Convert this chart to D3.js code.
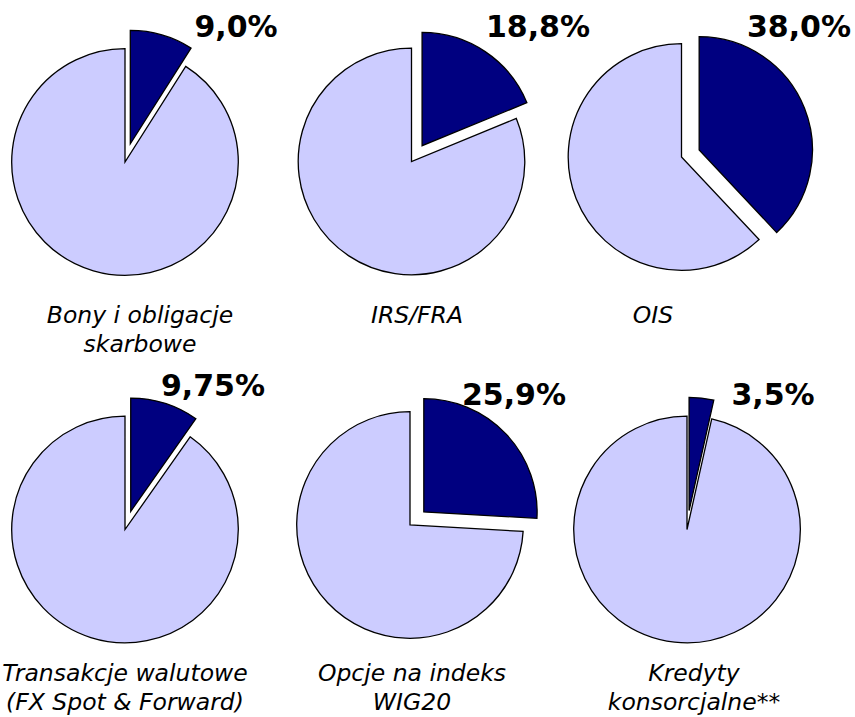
<!DOCTYPE html>
<html>
<head>
<meta charset="utf-8">
<script src="https://cdn.jsdelivr.net/npm/d3@7"></script>
<style>
  html, body { margin: 0; padding: 0; background: #fff; }
  svg { display: block; }
  .val { font-family: "DejaVu Sans", Verdana, sans-serif; font-weight: bold; font-size: 30px; fill: #000; }
  .cat { font-family: "DejaVu Sans", Verdana, sans-serif; font-style: italic; font-size: 23.5px; fill: #000; }
</style>
</head>
<body>
<svg id="chart" width="855" height="717"></svg>
<script>
// Share of each market segment (percent), one pie per segment
const categories = [
  ["Bony i obligacje", "skarbowe"],
  ["IRS/FRA"],
  ["OIS"],
  ["Transakcje walutowe", "(FX Spot & Forward)"],
  ["Opcje na indeks", "WIG20"],
  ["Kredyty", "konsorcjalne**"]
];
const shares = [9.0, 18.8, 38.0, 9.75, 25.9, 3.5];

// Placement of each pie and its texts
const layout = [
  { cx: 125,   cy: 162,   valX: 236, valY: 37,  catX: 140, catY: 323 },
  { cx: 411.5, cy: 161.5, valX: 538, valY: 37,  catX: 417, catY: 323 },
  { cx: 681.5, cy: 157,   valX: 799, valY: 37,  catX: 653, catY: 323 },
  { cx: 125,   cy: 529.5, valX: 213, valY: 396, catX: 125, catY: 681 },
  { cx: 410,   cy: 525,   valX: 514, valY: 405, catX: 412, catY: 681 },
  { cx: 687,   cy: 529.5, valX: 773, valY: 405, catX: 694, catY: 681 }
];

const radius = 113.3;
const explode = 19;
const lineGap = 29;
const colors = { part: "#000080", rest: "#ccccff" };

const svg = d3.select("#chart");
const pie = d3.pie().sort(null).value(d => d.v);
const arc = d3.arc().innerRadius(0).outerRadius(radius);

const fmt = v => (Math.round(v * 10) === v * 10 ? v.toFixed(1) : v.toFixed(2)).replace(".", ",") + "%";

shares.forEach((v, i) => {
  const L = layout[i];
  const g = svg.append("g").attr("transform", `translate(${L.cx},${L.cy})`);
  const slices = pie([{ key: "part", v: v }, { key: "rest", v: 100 - v }]);

  g.selectAll("path")
    .data(slices)
    .join("path")
    .attr("d", arc)
    .attr("fill", d => colors[d.data.key])
    .attr("stroke", "#000")
    .attr("stroke-width", 1.3)
    .attr("stroke-linejoin", "miter")
    .attr("transform", d => {
      if (d.data.key !== "part") return null;
      const mid = (d.startAngle + d.endAngle) / 2;
      return `translate(${explode * Math.sin(mid)},${-explode * Math.cos(mid)})`;
    });

  svg.append("text")
    .attr("class", "val")
    .attr("x", L.valX)
    .attr("y", L.valY)
    .attr("text-anchor", "middle")
    .text(fmt(v));

  const t = svg.append("text")
    .attr("class", "cat")
    .attr("text-anchor", "middle");
  categories[i].forEach((line, k) => {
    t.append("tspan")
      .attr("x", L.catX)
      .attr("y", L.catY + k * lineGap)
      .text(line);
  });
});
</script>
</body>
</html>
